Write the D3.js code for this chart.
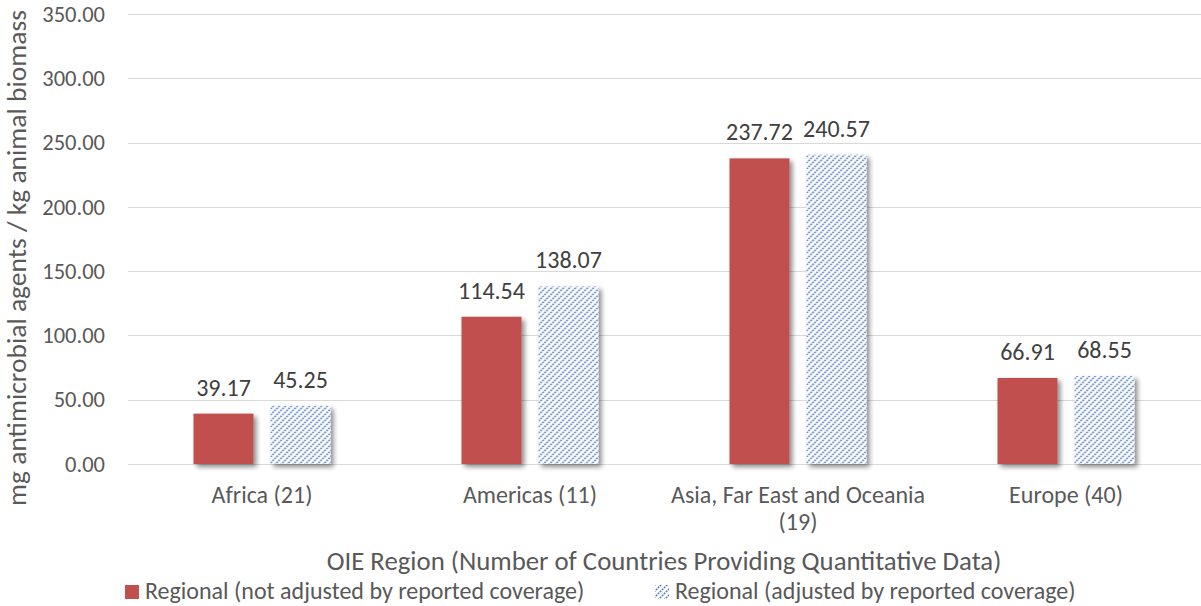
<!DOCTYPE html>
<html>
<head>
<meta charset="utf-8">
<script src="https://cdn.jsdelivr.net/npm/d3@7"></script>
<style>
  html, body { margin: 0; padding: 0; background: #fff; }
  svg { display: block; font-family: Carlito, Lato, "Open Sans", sans-serif; }
</style>
</head>
<body>
<svg id="chart" width="1201" height="606"></svg>
<script>
// Regional antimicrobial use per kg of animal biomass
const categories = ["Africa (21)", "Americas (11)", "Asia, Far East and Oceania (19)", "Europe (40)"];
const categoryLines = [["Africa (21)"], ["Americas (11)"], ["Asia, Far East and Oceania", "(19)"], ["Europe (40)"]];
const seriesNames = ["Regional (not adjusted by reported coverage)", "Regional (adjusted by reported coverage)"];
const notAdjusted = [39.17, 114.54, 237.72, 66.91];
const adjusted = [45.25, 138.07, 240.57, 68.55];
const yTicks = [0, 50, 100, 150, 200, 250, 300, 350];
const yTitle = "mg antimicrobial agents / kg animal biomass";
const xTitle = "OIE Region (Number of Countries Providing Quantitative Data)";

const svg = d3.select("#chart");
const textColor = "#595959";
const red = "#C0504D";
const blue = "#4472C4";

const plot = { left: 128, right: 1200, top: 14, bottom: 464 };

const x0 = d3.scaleBand().domain(categories).range([plot.left, plot.right]).padding(0);
const groupWidth = 137;
const x1 = d3.scaleBand().domain([0, 1]).range([0, groupWidth]).paddingInner(17 / 77).paddingOuter(0);
const y = d3.scaleLinear().domain([0, 350]).range([plot.bottom, plot.top]);

const defs = svg.append("defs");

// dotted upward-diagonal hatch
const pat = defs.append("pattern")
  .attr("id", "hatch").attr("patternUnits", "userSpaceOnUse")
  .attr("width", 6).attr("height", 6);
pat.append("rect").attr("width", 6).attr("height", 6).attr("fill", "#fff");
pat.append("path")
  .attr("d", "M-1,7 L7,-1 M-1,1 L1,-1 M5,7 L7,5")
  .attr("stroke", blue).attr("stroke-width", 1.5)
  .attr("stroke-dasharray", "1.8 1");

// soft shadow behind bars
const f = defs.append("filter").attr("id", "shadow")
  .attr("x", "-20%").attr("y", "-10%").attr("width", "150%").attr("height", "130%");
f.append("feGaussianBlur").attr("in", "SourceAlpha").attr("stdDeviation", 2.5).attr("result", "b");
f.append("feOffset").attr("in", "b").attr("dx", 3).attr("dy", 3).attr("result", "o");
f.append("feComponentTransfer").attr("in", "o").attr("result", "s")
  .append("feFuncA").attr("type", "linear").attr("slope", 0.45);
const m = f.append("feMerge");
m.append("feMergeNode").attr("in", "s");
m.append("feMergeNode").attr("in", "SourceGraphic");

// gridlines
svg.append("g")
  .selectAll("line").data(yTicks).join("line")
  .attr("x1", plot.left).attr("x2", 1201)
  .attr("y1", d => Math.round(y(d)) + 0.5).attr("y2", d => Math.round(y(d)) + 0.5)
  .attr("stroke", "#D9D9D9").attr("stroke-width", 1);

// y axis tick labels
const yAxis = d3.axisLeft(y).tickValues(yTicks).tickFormat(d3.format(".2f")).tickSize(0).tickPadding(0);
const ya = svg.append("g").attr("transform", `translate(${plot.left - 23},0)`).call(yAxis);
ya.select(".domain").remove();
ya.selectAll("text").attr("fill", textColor).style("font-size", "22.5px")
  .style("font-family", "Carlito, Lato, sans-serif");

// bars
const data = categories.map((c, i) => ({ c, vals: [notAdjusted[i], adjusted[i]] }));
const offset = (x0.bandwidth() - groupWidth) / 2;
const groups = svg.append("g").selectAll("g").data(data).join("g")
  .attr("transform", d => `translate(${x0(d.c) + offset},0)`);

groups.selectAll("rect").data(d => d.vals.map((v, k) => ({ v, k }))).join("rect")
  .attr("x", d => x1(d.k))
  .attr("width", x1.bandwidth())
  .attr("y", d => y(d.v))
  .attr("height", d => y(0) - y(d.v))
  .attr("fill", d => d.k === 0 ? red : "url(#hatch)")
  .attr("filter", "url(#shadow)");

// value labels
groups.selectAll("text").data(d => d.vals.map((v, k) => ({ v, k }))).join("text")
  .attr("x", d => x1(d.k) + x1.bandwidth() / 2)
  .attr("y", d => y(d.v) - 18)
  .attr("text-anchor", "middle")
  .attr("fill", "#404040").style("font-size", "24px")
  .text(d => d3.format(".2f")(d.v));

// category labels
const cl = svg.append("g").selectAll("text").data(categories).join("text")
  .attr("x", (d) => x0(d) + x0.bandwidth() / 2)
  .attr("y", 503)
  .attr("text-anchor", "middle")
  .attr("fill", textColor).style("font-size", "24px");
cl.each(function (d, i) {
  d3.select(this).selectAll("tspan").data(categoryLines[i]).join("tspan")
    .attr("x", x0(d) + x0.bandwidth() / 2)
    .attr("dy", (t, j) => j === 0 ? 0 : 27)
    .text(t => t);
});

// axis titles
svg.append("text")
  .attr("x", 664).attr("y", 570)
  .attr("text-anchor", "middle").attr("fill", textColor).style("font-size", "26.8px")
  .text(xTitle);

svg.append("text")
  .attr("transform", `translate(26,${(plot.top + plot.bottom) / 2 + 19}) rotate(-90)`)
  .attr("text-anchor", "middle").attr("fill", textColor).style("font-size", "27.5px")
  .text(yTitle);

// legend
const legend = svg.append("g");
const legendItems = [
  { name: seriesNames[0], fill: red, x: 125 },
  { name: seriesNames[1], fill: "url(#hatch)", x: 655 }
];
const li = legend.selectAll("g").data(legendItems).join("g")
  .attr("transform", d => `translate(${d.x},585)`);
li.append("rect").attr("width", 14).attr("height", 14).attr("fill", d => d.fill);
li.append("text").attr("x", 20).attr("y", 14)
  .attr("fill", textColor).style("font-size", "24px")
  .text(d => d.name);
</script>
</body>
</html>
